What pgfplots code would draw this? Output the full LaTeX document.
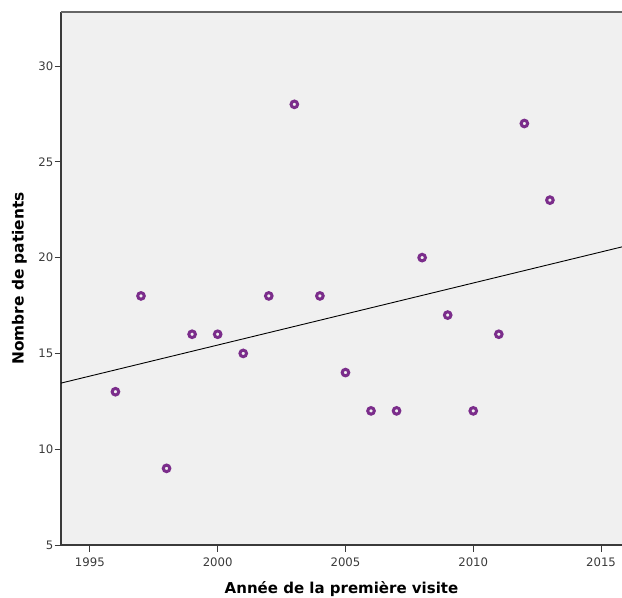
\documentclass[border=0pt]{standalone}
\usepackage{fontspec}
\setmainfont{DejaVu Sans}
\usepackage{pgfplots}
\pgfplotsset{compat=1.18}
\definecolor{bgc}{HTML}{F0F0F0}
\definecolor{pur}{HTML}{7B2D8B}
\definecolor{axc}{HTML}{3A3A3A}
\begin{document}
\begin{tikzpicture}
\useasboundingbox (-61bp,-53bp) rectangle (561bp,545bp);
\begin{axis}[
  at={(0,0)}, anchor=south west,
  scale only axis, width=561bp, height=533bp,
  xmin=1993.87, xmax=2015.82, ymin=5, ymax=32.82,
  axis x line*=bottom, axis y line*=left,
  axis line style={axc, line width=1.3pt, -},
  axis background/.style={fill=bgc},
  xtick={1995,2000,2005,2010,2015},
  ytick={5,10,15,20,25,30},
  tick align=outside, major tick length=6.5bp,
  tick style={axc, line width=1pt},
  /pgf/number format/assume math mode=true,
  xticklabel style={/pgf/number format/1000 sep={}, font=\fontsize{11.7bp}{13bp}\selectfont, text=axc, inner sep=1bp, yshift=-5bp},
  yticklabel style={font=\fontsize{11.7bp}{13bp}\selectfont, text=axc, inner sep=1bp},
  xlabel={\textbf{Année de la première visite}},
  ylabel={\textbf{Nombre de patients}},
  xlabel style={font=\fontsize{15bp}{17bp}\selectfont, anchor=base, yshift=-26bp},
  ylabel style={font=\fontsize{15.4bp}{17bp}\selectfont, yshift=7bp},
  clip=false,
]
\addplot[only marks, mark=*, mark size=3.3bp, mark options={draw=pur, fill=bgc, line width=3bp}] coordinates {
(1996,13) (1997,18) (1998,9) (1999,16) (2000,16) (2001,15) (2002,18) (2003,28) (2004,18)
(2005,14) (2006,12) (2007,12) (2008,20) (2009,17) (2010,12) (2011,16) (2012,27) (2013,23)
};
\addplot[black, line width=0.9pt] coordinates {(1993.87,13.45) (2015.82,20.56)};
\draw[gray!80!black, line width=1.2pt] (rel axis cs:0,1) -- (rel axis cs:1,1);
\end{axis}
\end{tikzpicture}
\end{document}
